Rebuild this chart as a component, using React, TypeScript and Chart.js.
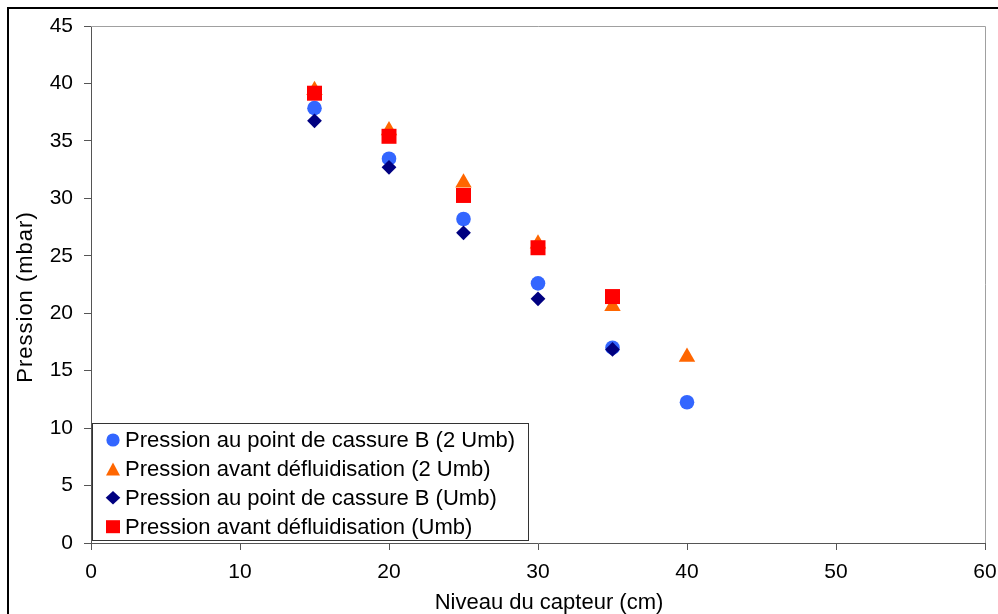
import React, { useEffect, useRef } from 'react';
import { Chart, registerables } from 'chart.js';

Chart.register(...registerables);

// ---- data ----
const sensorLevels: number[] = [15, 20, 25, 30, 35, 40];
const seriesLabels: string[] = [
  'Pression au point de cassure B (2 Umb)',
  'Pression avant défluidisation (2 Umb)',
  'Pression au point de cassure B (Umb)',
  'Pression avant défluidisation (Umb)',
];
const breakPoint2Umb: number[] = [37.85, 33.45, 28.2, 22.6, 17.0, 12.25];
const beforeDefluid2Umb: number[] = [39.4, 35.9, 31.35, 26.05, 20.6, 16.2];
const breakPointUmb: number[] = [36.75, 32.7, 27.0, 21.25, 16.85];
const beforeDefluidUmb: number[] = [39.15, 35.4, 30.25, 25.7, 21.45];
const xTickValues: number[] = [0, 10, 20, 30, 40, 50, 60];
const yTickValues: number[] = [0, 5, 10, 15, 20, 25, 30, 35, 40, 45];
const xTitle = 'Niveau du capteur (cm)';
const yTitle = 'Pression (mbar)';

const FONT = 'Liberation Sans, Arial, sans-serif';
const colors = ['#3366FF', '#FF6600', '#000080', '#FF0000'];
const shapes = ['circle', 'triangle', 'rectRot', 'rect'];
const radii = [7.3, 9.5, 7.4, 10.6];

function toPoints(values: number[]) {
  return values.map((v, i) => ({ x: sensorLevels[i], y: v }));
}

function drawMarker(ctx: CanvasRenderingContext2D, shape: string, x: number, y: number, color: string) {
  ctx.fillStyle = color;
  ctx.beginPath();
  if (shape === 'circle') {
    ctx.arc(x, y, 6.6, 0, Math.PI * 2);
  } else if (shape === 'triangle') {
    ctx.moveTo(x, y - 6.5);
    ctx.lineTo(x + 7, y + 6.5);
    ctx.lineTo(x - 7, y + 6.5);
    ctx.closePath();
  } else if (shape === 'rectRot') {
    ctx.moveTo(x, y - 6.8);
    ctx.lineTo(x + 7.3, y);
    ctx.lineTo(x, y + 6.8);
    ctx.lineTo(x - 7.3, y);
    ctx.closePath();
  } else {
    ctx.rect(x - 7, y - 6.5, 14, 13);
  }
  ctx.fill();
}

const decorPlugin = {
  id: 'decor',
  beforeDraw(chart: any) {
    const { ctx, width, height } = chart;
    ctx.save();
    ctx.fillStyle = '#ffffff';
    ctx.fillRect(0, 0, width, height);
    ctx.restore();
  },
  afterDraw(chart: any) {
    const { ctx, chartArea: ca } = chart;
    ctx.save();
    // top & right border of plot area
    ctx.strokeStyle = '#a0a0a0';
    ctx.lineWidth = 1;
    ctx.beginPath();
    ctx.moveTo(ca.left, Math.round(ca.top) + 0.5);
    ctx.lineTo(Math.round(ca.right) + 0.5, Math.round(ca.top) + 0.5);
    ctx.lineTo(Math.round(ca.right) + 0.5, ca.bottom);
    ctx.stroke();

    // outer frame
    ctx.strokeStyle = '#000000';
    ctx.lineWidth = 2;
    ctx.strokeRect(8, 8, 1200, 1200);

    // axis titles
    ctx.fillStyle = '#000000';
    ctx.font = `22px ${FONT}`;
    ctx.textAlign = 'center';
    ctx.textBaseline = 'middle';
    ctx.fillText(xTitle, 549, 603);
    ctx.save();
    ctx.translate(26, 297);
    ctx.rotate(-Math.PI / 2);
    (ctx as any).letterSpacing = '1px';
    ctx.fillText(yTitle, 0, 0);
    ctx.restore();

    // legend inside plot area
    const lx = 92.5, ly = 423.5, lw = 436, lh = 117;
    ctx.fillStyle = '#ffffff';
    ctx.fillRect(lx, ly, lw, lh);
    ctx.strokeStyle = '#333333';
    ctx.lineWidth = 1;
    ctx.strokeRect(lx, ly, lw, lh);
    ctx.font = `22px ${FONT}`;
    ctx.textAlign = 'left';
    ctx.textBaseline = 'middle';
    seriesLabels.forEach((label, i) => {
      const y = 440 + i * 28.9;
      drawMarker(ctx, shapes[i], 113, y, colors[i]);
      ctx.fillStyle = '#000000';
      ctx.fillText(label, 125, y + 1);
    });
    ctx.restore();
  },
};

export default function App() {
  const canvasRef = useRef<HTMLCanvasElement | null>(null);

  useEffect(() => {
    if (!canvasRef.current) return;
    const seriesValues = [breakPoint2Umb, beforeDefluid2Umb, breakPointUmb, beforeDefluidUmb];
    const datasets = seriesValues.map((vals, i) => ({
      label: seriesLabels[i],
      data: toPoints(vals),
      pointStyle: shapes[i],
      pointRadius: radii[i],
      pointHoverRadius: radii[i],
      pointBackgroundColor: colors[i],
      pointBorderColor: colors[i],
      pointBorderWidth: 0,
      backgroundColor: colors[i],
      borderColor: colors[i],
      showLine: false,
      order: 4 - i,
    }));

    const chart = new Chart(canvasRef.current, {
      type: 'scatter',
      data: { datasets },
      plugins: [decorPlugin],
      options: {
        animation: false,
        responsive: false,
        maintainAspectRatio: false,
        layout: { padding: { top: 26, right: 13, left: 0, bottom: 0 } },
        plugins: {
          legend: { display: false },
          tooltip: { enabled: false },
        },
        scales: {
          x: {
            type: 'linear',
            min: 0,
            max: 60,
            afterBuildTicks: (scale: any) => {
              scale.ticks = xTickValues.map((v) => ({ value: v }));
            },
            afterFit: (scale: any) => {
              scale.height = 71;
              scale.paddingLeft = 0;
              scale.paddingRight = 0;
            },
            ticks: {
              font: { family: FONT, size: 21 },
              color: '#000000',
              padding: 10,
              maxRotation: 0,
            },
            grid: {
              display: true,
              drawOnChartArea: false,
              drawTicks: true,
              tickLength: 7,
              color: '#555555',
            },
            border: { display: true, color: '#555555', width: 1 },
          },
          y: {
            type: 'linear',
            min: 0,
            max: 45,
            afterBuildTicks: (scale: any) => {
              scale.ticks = yTickValues.map((v) => ({ value: v }));
            },
            afterFit: (scale: any) => {
              scale.width = 91;
              scale.paddingTop = 0;
              scale.paddingBottom = 0;
            },
            ticks: {
              font: { family: FONT, size: 21 },
              color: '#000000',
              padding: 11,
            },
            grid: {
              display: true,
              drawOnChartArea: false,
              drawTicks: true,
              tickLength: 7,
              color: '#555555',
            },
            border: { display: true, color: '#555555', width: 1 },
          },
        },
      },
    });
    return () => chart.destroy();
  }, []);

  return (
    <div style={{ position: 'fixed', left: 0, top: 0, width: 998, height: 614, background: '#fff' }}>
      <canvas ref={canvasRef} width={998} height={614} style={{ display: 'block' }} />
    </div>
  );
}
